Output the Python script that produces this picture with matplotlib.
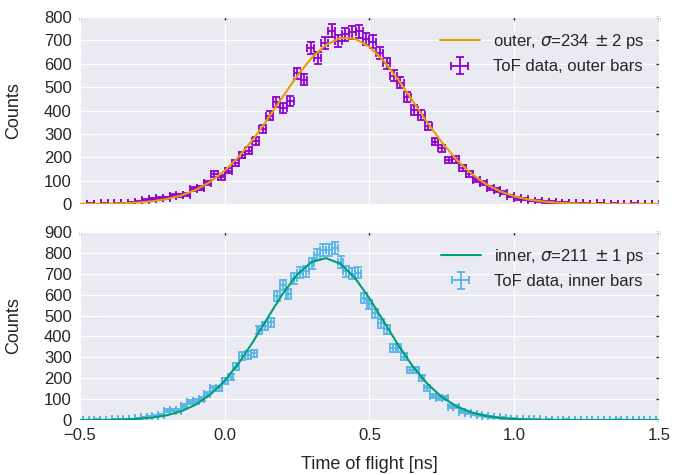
import numpy as np
import matplotlib
matplotlib.use('Agg')
import matplotlib.pyplot as plt
import seaborn as sns

# --- data ---------------------------------------------------------------
# outer bars: 84 bins between -0.5 and 1.5 ns
outer_edges = np.linspace(-0.5, 1.5, 85)
outer_counts = [0, 2, 1, 3, 1, 4, 3, 6, 10, 17, 22, 24, 26, 36, 38, 40, 65, 68, 90,
                128, 114, 143, 174, 210, 228, 271, 321, 378, 438, 410, 442, 559, 532,
                666, 624, 690, 742, 698, 726, 735, 738, 705, 695, 645, 602, 548, 519,
                459, 402, 381, 334, 267, 238, 188, 191, 153, 128, 103, 89, 67, 60, 48,
                34, 24, 20, 15, 14, 8, 9, 5, 6, 3, 4, 2, 1, 3, 0, 2, 1, 0, 2, 1, 0, 1]

# inner bars: points every 20 ps from -0.5 to 1.5 ns
inner_x = np.linspace(-0.5, 1.5, 101)
inner_counts = [0, 1, 0, 2, 1, 0, 3, 2, 4, 3, 8, 13, 16, 19, 24, 45, 48, 45, 67, 88,
                92, 100, 125, 152, 152, 188, 204, 255, 306, 311, 319, 431, 450, 468,
                594, 647, 604, 679, 706, 712, 750, 792, 814, 816, 822, 757, 712, 701,
                706, 583, 553, 511, 462, 434, 345, 343, 303, 240, 240, 200, 152, 115,
                104, 104, 64, 64, 40, 35, 29, 24, 19, 14, 12, 9, 7, 5, 4, 3, 2, 3, 1,
                2, 0, 1, 2, 0, 1, 0, 1, 0, 0, 1, 0, 2, 0, 1, 0, 0, 1, 0, 0]

# fitted curves, sampled every 50 ps
fit_x = np.linspace(-0.5, 1.5, 41)
outer_fit = [0.3, 0.7, 1.5, 3.2, 6.3, 11.8, 21.3, 36.7, 60.4, 94.9, 142.4, 204.3,
             279.9, 366.4, 458.3, 547.7, 625.2, 681.8, 710.4, 707.2, 672.5, 611.0,
             530.4, 439.9, 348.5, 263.7, 190.7, 131.8, 87.0, 54.8, 33.0, 19.0, 10.5,
             5.5, 2.8, 1.3, 0.6, 0.3, 0.1, 0.05, 0.02]
inner_fit = [0.16, 0.42, 1.05, 2.5, 5.5, 11.5, 22.6, 42.0, 73.5, 121.1, 188.1, 275.2,
             379.4, 493.0, 603.5, 696.1, 756.6, 774.8, 747.6, 679.8, 582.3, 470.1,
             357.5, 256.2, 173.0, 110.1, 66.0, 37.3, 19.8, 9.95, 4.7, 2.1, 0.88, 0.35,
             0.13, 0.04, 0.0, 0.0, 0.0, 0.0, 0.0]

outer_label = r'outer, $\sigma$=234$\,\pm$2 ps'
inner_label = r'inner, $\sigma$=211$\,\pm$1 ps'

# --- style ---------------------------------------------------------------
sns.set_style('darkgrid')
plt.rcParams['font.family'] = ['Liberation Sans', 'DejaVu Sans']
plt.rcParams['mathtext.fontset'] = 'dejavusans'
plt.rcParams['text.color'] = '#262626'
plt.rcParams['axes.labelcolor'] = '#262626'

fig = plt.figure(figsize=(6.83, 4.75), dpi=100)
ax1 = fig.add_axes([0.1171, 0.5705, 0.8477, 0.3937])
ax2 = fig.add_axes([0.1171, 0.1158, 0.8477, 0.3958])

outer_x = 0.5 * (outer_edges[:-1] + outer_edges[1:])
outer_xerr = 0.5 * (outer_edges[1] - outer_edges[0])
# Poisson errors
outer_yerr = np.sqrt(outer_counts)
inner_yerr = np.sqrt(inner_counts)

line1, = ax1.plot(fit_x, outer_fit, color='#E69F00', lw=1.5, zorder=3)
eb1 = ax1.errorbar(outer_x, outer_counts, xerr=outer_xerr, yerr=outer_yerr,
                   fmt='none', ecolor='#9400D3', elinewidth=1.3, capsize=3,
                   capthick=1.3, zorder=2)
ax1.legend([line1, eb1], [outer_label, 'ToF data, outer bars'],
           loc='upper right', frameon=False, fontsize=12, handlelength=2.4)

line2, = ax2.plot(fit_x, inner_fit, color='#009E73', lw=1.5, zorder=3)
eb2 = ax2.errorbar(inner_x, inner_counts, xerr=0.01, yerr=inner_yerr,
                   fmt='none', ecolor='#56B4E9', elinewidth=1.3, capsize=3,
                   capthick=1.3, zorder=2)
ax2.legend([line2, eb2], [inner_label, 'ToF data, inner bars'],
           loc='upper right', frameon=False, fontsize=12, handlelength=2.4)

for ax, ymax in ((ax1, 800), (ax2, 900)):
    ax.set_xlim(-0.5, 1.5)
    ax.set_ylim(0, ymax)
    ax.set_yticks(np.arange(0, ymax + 1, 100))
    ax.set_xticks([-0.5, 0.0, 0.5, 1.0, 1.5])
    ax.tick_params(direction='in', length=2.5, width=1, colors='#262626',
                   top=True, right=True, labelsize=12, pad=6)
    ax.set_ylabel('Counts', fontsize=13)
    ax.yaxis.set_label_coords(-0.1, 0.5)

ax1.tick_params(labelbottom=False)
ax2.set_xticklabels(['\u22120.5', '0.0', '0.5', '1.0', '1.5'])
ax2.set_xlabel('Time of flight [ns]', fontsize=13)
ax2.xaxis.set_label_coords(0.5, -0.19)

fig.savefig('out.png', dpi=100)
